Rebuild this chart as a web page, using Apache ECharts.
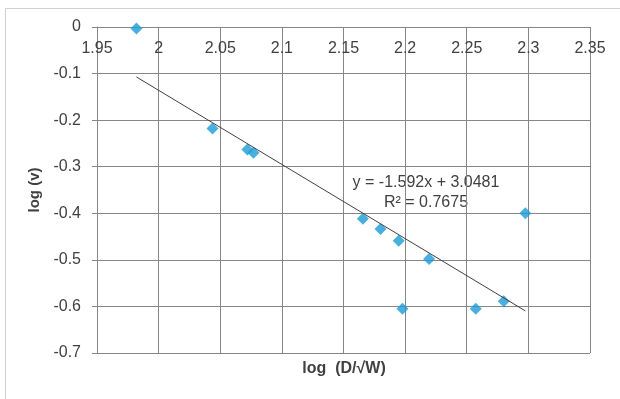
<!DOCTYPE html>
<html>
<head>
<meta charset="utf-8">
<script src="https://cdn.jsdelivr.net/npm/echarts@6/dist/echarts.min.js"></script>
<style>
html,body{margin:0;padding:0;background:#fff;}
#chart{width:620px;height:399px;}
</style>
</head>
<body>
<div id="chart"></div>
<script>
// Data
var xValues = [1.982, 2.0437, 2.072, 2.077, 2.1657, 2.180, 2.1948, 2.1978, 2.2194, 2.2573, 2.280, 2.2975];
var yValues = [-0.003, -0.218, -0.263, -0.270, -0.412, -0.434, -0.459, -0.605, -0.498, -0.605, -0.589, -0.400];
var trendX = [1.982, 2.2975];
var trendY = [-0.1073, -0.6095];
var xTicks = [1.95, 2.35, 0.05];
var yTicks = [-0.7, 0, 0.1];
var equationText = 'y = -1.592x + 3.0481';
var r2Text = 'R² = 0.7675';
var xTitle = 'log  (D/√W)';
var yTitle = 'log (v)';

var pts = xValues.map(function(x, i){ return [x, yValues[i]]; });
var trend = trendX.map(function(x, i){ return [x, trendY[i]]; });

var chart = echarts.init(document.getElementById('chart'), null, {renderer:'canvas'});
var font = 'Liberation Sans';
chart.setOption({
  animation: false,
  backgroundColor: '#ffffff',
  grid: {left: 97, top: 27, width: 493, height: 326, containLabel: false},
  xAxis: {
    type: 'value', position: 'top',
    min: xTicks[0], max: xTicks[1], interval: xTicks[2],
    axisLine: {show: true, lineStyle: {color: '#868686', width: 1}},
    axisTick: {show: true, inside: true, length: 5, lineStyle: {color: '#868686'}},
    axisLabel: {inside: true, margin: 14, color: '#404040', fontFamily: font, fontSize: 16},
    splitLine: {show: true, lineStyle: {color: '#868686', width: 1}}
  },
  yAxis: {
    type: 'value',
    min: yTicks[0], max: yTicks[1], interval: yTicks[2],
    name: yTitle, nameLocation: 'middle', nameGap: 50, nameRotate: 90,
    nameTextStyle: {fontFamily: font, fontSize: 15, fontWeight: 'bold', color: '#404040'},
    axisLine: {show: true, lineStyle: {color: '#868686', width: 1}},
    axisTick: {show: true, length: 5, lineStyle: {color: '#868686'}},
    axisLabel: {margin: 16, color: '#404040', fontFamily: font, fontSize: 16},
    splitLine: {show: true, lineStyle: {color: '#868686', width: 1}}
  },
  series: [
    {
      type: 'scatter', data: pts, symbol: 'diamond', symbolSize: 12,
      itemStyle: {color: '#1b9bd7'}, z: 2
    },
    {
      type: 'line', data: trend, symbol: 'none', z: 3,
      lineStyle: {color: '#404040', width: 1}
    }
  ],
  graphic: [
    {type: 'rect', shape: {x: 5.5, y: 8.5, width: 700, height: 500}, style: {fill: null, stroke: '#d0d0d0', lineWidth: 1}, silent: true, z: -1},
    {type: 'text', x: 426, y: 183, style: {text: equationText, fill: '#404040', font: '16px ' + font, align: 'center', verticalAlign: 'middle'}},
    {type: 'text', x: 426, y: 203, style: {text: r2Text, fill: '#404040', font: '16px ' + font, align: 'center', verticalAlign: 'middle'}},
    {type: 'text', x: 344, y: 369, style: {text: xTitle, fill: '#404040', font: 'bold 16px ' + font, align: 'center', verticalAlign: 'middle'}}
  ]
});
</script>
</body>
</html>
